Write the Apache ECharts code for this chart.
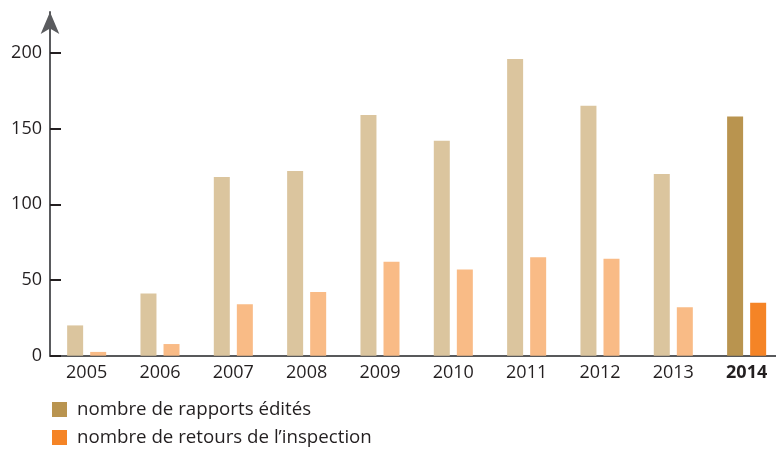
<!DOCTYPE html>
<html>
<head>
<meta charset="utf-8">
<script src="https://cdn.jsdelivr.net/npm/echarts@6/dist/echarts.min.js"></script>
<style>
  html, body { margin: 0; padding: 0; background: #fff; overflow: hidden; }
  /* l'axe des x déborde un peu à droite, comme sur l'original */
  #chart { width: 784px; height: 451px; }
</style>
</head>
<body>
<div id="chart"></div>
<script>
var years = ['2005', '2006', '2007', '2008', '2009', '2010', '2011', '2012', '2013', '2014'];
var rapports = [20, 41, 118, 122, 159, 142, 196, 165, 120, 158];
var retours = [2.5, 7.7, 34, 42, 62, 57, 65, 64, 32, 35];
var seriesNames = ['nombre de rapports édités', 'nombre de retours de l\u2019inspection'];
var yTicks = [0, 50, 100, 150, 200];

var chart = echarts.init(document.getElementById('chart'));

// les années passées en couleur pâle, la dernière en couleur pleine
function toData(values, pale) {
    return values.map(function (v, i) {
        if (i === values.length - 1) return v;
        return { value: v, itemStyle: { color: pale } };
    });
}

var font = '"Open Sans", sans-serif';

var option = {
    backgroundColor: '#fff',
    animation: false,
    grid: { left: 50, top: 12, right: 0.7, bottom: 95.3 },
    legend: {
        orient: 'vertical',
        left: 52,
        top: 400,
        height: 120,
        padding: 0,
        itemWidth: 15,
        itemHeight: 15,
        itemGap: 9,
        icon: 'rect',
        data: seriesNames,
        textStyle: { fontFamily: font, fontSize: 18.7, lineHeight: 15, color: '#231f20', padding: [0, 0, 0, 5] }
    },
    xAxis: {
        type: 'category',
        data: years,
        boundaryGap: true,
        axisLine: { lineStyle: { color: '#58595b', width: 2 } },
        axisTick: { inside: true, length: 10, interval: 0, lineStyle: { color: '#231f20', width: 2 } },
        axisLabel: {
            interval: 0,
            margin: 8,
            fontFamily: font,
            fontSize: 18,
            color: '#231f20',
            formatter: function (v, i) {
                return i === years.length - 1 ? '{b|' + v + '}' : v;
            },
            rich: { b: { fontFamily: font, fontSize: 18, fontWeight: 'bold', color: '#231f20' } }
        }
    },
    yAxis: {
        type: 'value',
        min: yTicks[0],
        max: 227,
        interval: 50,
        splitLine: { show: false },
        axisLine: {
            show: true,
            symbol: ['none', 'arrow'],
            symbolSize: [14, 22],
            lineStyle: { color: '#5a5b5e', width: 2 }
        },
        axisTick: {
            show: true, inside: true, length: 11,
            customValues: yTicks,
            lineStyle: { color: '#231f20', width: 2 }
        },
        axisLabel: {
            margin: 8,
            fontFamily: font,
            fontSize: 18,
            color: '#231f20',
            customValues: yTicks
        }
    },
    series: [
        {
            name: seriesNames[0],
            type: 'bar',
            barWidth: 16,
            barGap: '44%',
            itemStyle: { color: '#b9944f' },
            data: toData(rapports, '#dbc59e')
        },
        {
            name: seriesNames[1],
            type: 'bar',
            barWidth: 16,
            itemStyle: { color: '#f58426' },
            data: toData(retours, '#f9bb86')
        }
    ]
};

chart.setOption(option);
</script>
</body>
</html>
